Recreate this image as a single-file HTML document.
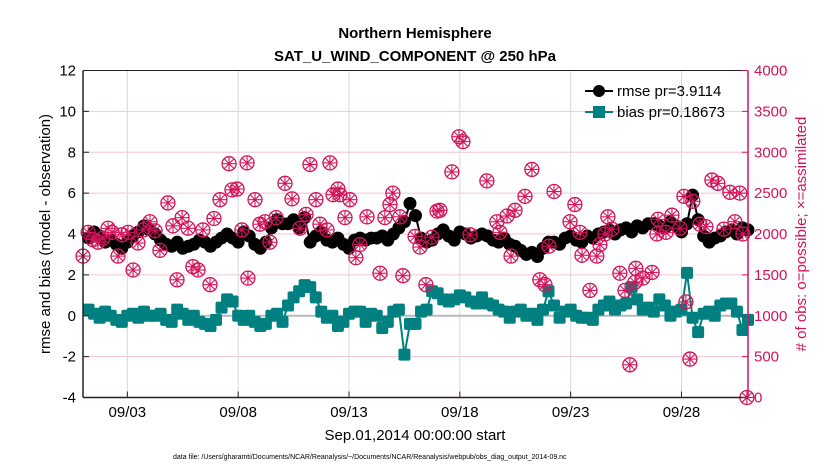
<!DOCTYPE html>
<html><head><meta charset="utf-8"><style>
body{margin:0;background:#fff;}
svg{font-family:"Liberation Sans",sans-serif;}
</style></head><body>
<svg id="chart" width="830" height="470" xmlns="http://www.w3.org/2000/svg">
<rect width="830" height="470" fill="#fff"/>
<g id="grid"></g><g id="plot"></g><g id="obs"></g><g id="axes"></g>
<text x="415" y="38" text-anchor="middle" font-size="15" font-weight="bold">Northern Hemisphere</text>
<text x="415" y="61" text-anchor="middle" font-size="15" font-weight="bold">SAT_U_WIND_COMPONENT @ 250 hPa</text>
<text x="415" y="440" text-anchor="middle" font-size="15">Sep.01,2014 00:00:00 start</text>
<text transform="translate(50,234) rotate(-90)" text-anchor="middle" font-size="15">rmse and bias (model - observation)</text>
<text transform="translate(806,234) rotate(-90)" text-anchor="middle" font-size="15" fill="#d4145a"># of obs: o=possible; ×=assimilated</text>
<text x="173" y="459" font-size="7">data file: /Users/gharamti/Documents/NCAR/Reanalysis/~/Documents/NCAR/Reanalysis/webpub/obs_diag_output_2014-09.nc</text>
<g>
<line x1="585" y1="91" x2="613" y2="91" stroke="#000" stroke-width="2"/><circle cx="599" cy="91" r="6" fill="#000"/>
<text x="617" y="96" font-size="15">rmse pr=3.9114</text>
<line x1="585" y1="112" x2="613" y2="112" stroke="#008080" stroke-width="2"/><rect x="593" y="106" width="12" height="12" fill="#008080"/>
<text x="617" y="117" font-size="15">bias pr=0.18673</text>
</g>
</svg>
<script>
const xTickLabels=["09/03","09/08","09/13","09/18","09/23","09/28"];
const xTickDays=[2,7,12,17,22,27];
const yTicks=[-4,-2,0,2,4,6,8,10,12];
const y2Ticks=[0,500,1000,1500,2000,2500,3000,3500,4000];
const rmse=[3.8,4.1,3.9,3.6, 3.7,3.5,3.3,3.6, 3.9,4.1,4.4,4.2, 4.0,3.7,3.5,3.4, 3.6,3.3,3.4,3.5,
3.7,3.6,3.4,3.6, 3.8,4.0,3.8,3.6, 4.1,3.9,3.5,3.3, 3.6,4.3,4.7,4.5, 4.5,4.7,4.3,4.8,
3.6,3.9,4.1,3.7, 3.6,3.8,3.5,3.3, 3.7,3.8,3.7,3.8, 3.8,3.9,3.7,4.0, 4.3,4.6,5.5,4.9,
3.8,3.6,3.7,4.0, 4.2,3.9,3.7,4.1, 4.0,3.8,3.9,4.0, 3.9,3.7,3.6,3.8, 3.5,3.4,3.2,3.0,
3.1,2.9,3.3,3.6, 3.6,3.5,3.8,3.9, 3.7,3.6,3.9,3.8, 4.0,4.1,4.2,4.0, 4.2,4.3,4.1,4.4,
4.3,4.5,4.5,4.4, 4.3,4.6,4.4,4.1, 4.5,5.9,4.7,3.9, 3.6,3.8,3.9,4.1, 4.2,4.0,4.3,4.2];
const bias=[0.3,0.1,-0.1,0.2, 0.0,-0.2,-0.3,0.0, 0.1,-0.1,0.2,0.0, 0.0,0.1,-0.2,-0.3, 0.3,0.1,-0.2,0.0,
-0.3,-0.4,-0.5,-0.2, 0.4,0.8,0.7,0.0, -0.2,0.0,-0.3,-0.5, -0.4,0.0,0.1,-0.3, 0.5,0.9,1.2,1.5,
1.4,0.9,0.2,-0.1, 0.0,-0.5,-0.3,0.1, 0.2,0.2,-0.3,0.1, 0.0,-0.6,-0.3,0.2, 0.3,-1.9,-0.4,-0.4,
0.2,0.3,1.2,1.1, 0.8,0.7,0.8,1.0, 0.9,0.7,0.6,0.9, 0.6,0.5,0.3,0.2, -0.1,0.2,0.3,0.0,
0.1,-0.2,0.3,1.2, 0.5,-0.1,0.2,0.3, 0.0,-0.1,-0.1,-0.2, 0.3,0.5,0.7,0.3, 0.5,0.6,1.4,0.8,
0.3,0.4,0.2,0.8, 0.5,0.0,0.2,0.3, 2.1,-0.1,-0.8,0.1, 0.2,0.0,0.5,0.6, 0.6,0.2,-0.7,-0.2];
const obsDay=[0,.23,.45,.68,.9,1.13,1.31,1.58,1.76,2.03,2.26,2.48,2.71,3.02,3.25,3.47,3.83,4.06,4.24,4.47,4.74,4.96,5.19,5.41,5.73,5.91,6.18,6.59,6.72,6.95,7.17,7.4,7.44,7.76,7.98,8.21,8.43,8.71,9.11,9.43,9.79,10.06,10.24,10.51,10.69,11.01,11.14,11.28,11.5,11.59,11.82,12.04,12.31,12.49,12.81,13.4,13.62,13.85,13.98,14.3,14.43,14.98,15.2,15.47,15.74,15.97,16.1,16.64,16.96,17.14,17.46,18.22,18.67,18.81,19.13,19.31,19.49,19.94,20.25,20.61,20.84,21.02,21.25,21.97,22.19,22.42,22.51,22.87,23.18,23.32,23.55,23.68,23.86,24.22,24.67,24.45,24.9,24.94,25.26,25.67,25.89,25.94,26.3,26.57,26.93,27.11,27.2,27.38,27.51,27.83,28.1,28.37,28.64,28.91,29.18,29.41,29.63,29.77,29.95];
const obsCount=[1730,2020,1930,1900,1950,2070,2020,1730,1990,2020,1560,1890,2050,2150,2040,1800,2380,2100,1440,2200,2070,1600,1560,2050,1380,2190,2420,2860,2540,2550,2050,2870,1460,2420,2120,2150,1900,2200,2620,2430,2070,2240,2850,2420,2120,2050,2870,2480,2550,2480,2200,2420,1710,1870,2210,1520,2200,2360,2500,2210,1490,1970,1840,1380,1960,2280,2290,2760,3190,3130,1990,2650,2150,2020,2220,1730,2290,2460,2790,1440,1380,1850,2520,2150,2360,2020,1740,1310,1730,1870,2000,2210,2060,1520,400,1310,1410,1580,1460,1530,2000,2180,2020,2230,2070,2460,1170,470,2400,2120,2090,2660,2620,2060,2510,2150,2500,2000,0];
const NS="http://www.w3.org/2000/svg";
const X0=83,X1=748,Y0=70.5,Y1=397.5;
const xs=d=>X0+(d/30)*(X1-X0);
const ys=v=>Y1-(v+4)/16*(Y1-Y0);
const ys2=c=>Y1-c/4000*(Y1-Y0);
function mk(t,a,p){const e=document.createElementNS(NS,t);for(const k in a)e.setAttribute(k,a[k]);p.appendChild(e);return e;}
const grid=document.getElementById('grid'),plot=document.getElementById('plot'),obs=document.getElementById('obs'),axes=document.getElementById('axes');
y2Ticks.forEach(c=>{if(c>0&&c<4000){const l=mk('line',{x1:X0,x2:X1,y1:ys2(c),y2:ys2(c),stroke:'#f2c6d6','stroke-width':1},grid);

}});
xTickDays.forEach(d=>{const l=mk('line',{x1:xs(d),x2:xs(d),y1:Y0,y2:Y1,stroke:'#d8d8d8','stroke-width':1},grid);

});
const z=mk('line',{x1:X0,x2:X1,y1:ys(0),y2:ys(0),stroke:'#b8b8b8','stroke-width':2},grid);


obsDay.forEach((d,i)=>{const g=mk('g',{},obs);


const cx=xs(d),cy=ys2(obsCount[i]),c='#d4145a';
mk('circle',{cx,cy,r:7,fill:'none',stroke:c,'stroke-width':1.3},g);
for(let a=0;a<4;a++){const an=a*Math.PI/4;mk('line',{x1:cx-7*Math.cos(an),y1:cy-7*Math.sin(an),x2:cx+7*Math.cos(an),y2:cy+7*Math.sin(an),stroke:c,'stroke-width':1.1},g);}});
const tday=i=>(i+1)*0.25;
const rp=mk('polyline',{points:rmse.map((v,i)=>xs(tday(i))+','+ys(v)).join(' '),fill:'none',stroke:'#000','stroke-width':2},plot);


rmse.forEach((v,i)=>{const c=mk('circle',{cx:xs(tday(i)),cy:ys(v),r:6.5,fill:'#000'},plot);

});
const bp=mk('polyline',{points:bias.map((v,i)=>xs(tday(i))+','+ys(v)).join(' '),fill:'none',stroke:'#008080','stroke-width':2},plot);


bias.forEach((v,i)=>{const r=mk('rect',{x:xs(tday(i))-6,y:ys(v)-6,width:12,height:12,rx:2,fill:'#008080'},plot);

});
mk('line',{x1:X0,x2:X0,y1:Y0,y2:Y1,stroke:'#222','stroke-width':1.5},axes);
mk('line',{x1:X0,x2:X1,y1:Y1,y2:Y1,stroke:'#301820','stroke-width':1.5},axes);
mk('line',{x1:X0,x2:X1,y1:Y0,y2:Y0,stroke:'#222','stroke-width':1},axes);
mk('line',{x1:X1,x2:X1,y1:Y0,y2:Y1,stroke:'#d4145a','stroke-width':1.5},axes);
yTicks.forEach(v=>{mk('line',{x1:X0,x2:X0+6,y1:ys(v),y2:ys(v),stroke:'#222'},axes);
const t=mk('text',{x:X0-7,y:ys(v)+5,'text-anchor':'end','font-size':15},axes);t.textContent=v;

});
y2Ticks.forEach(c=>{mk('line',{x1:X1-6,x2:X1,y1:ys2(c),y2:ys2(c),stroke:'#d4145a'},axes);
const t=mk('text',{x:X1+6,y:ys2(c)+5,'font-size':15,fill:'#d4145a'},axes);t.textContent=c;

});
xTickDays.forEach((d,i)=>{mk('line',{x1:xs(d),x2:xs(d),y1:Y1-6,y2:Y1,stroke:'#222'},axes);
const t=mk('text',{x:xs(d),y:417,'text-anchor':'middle','font-size':15},axes);t.textContent=xTickLabels[i];

});
</script>
</body></html>
